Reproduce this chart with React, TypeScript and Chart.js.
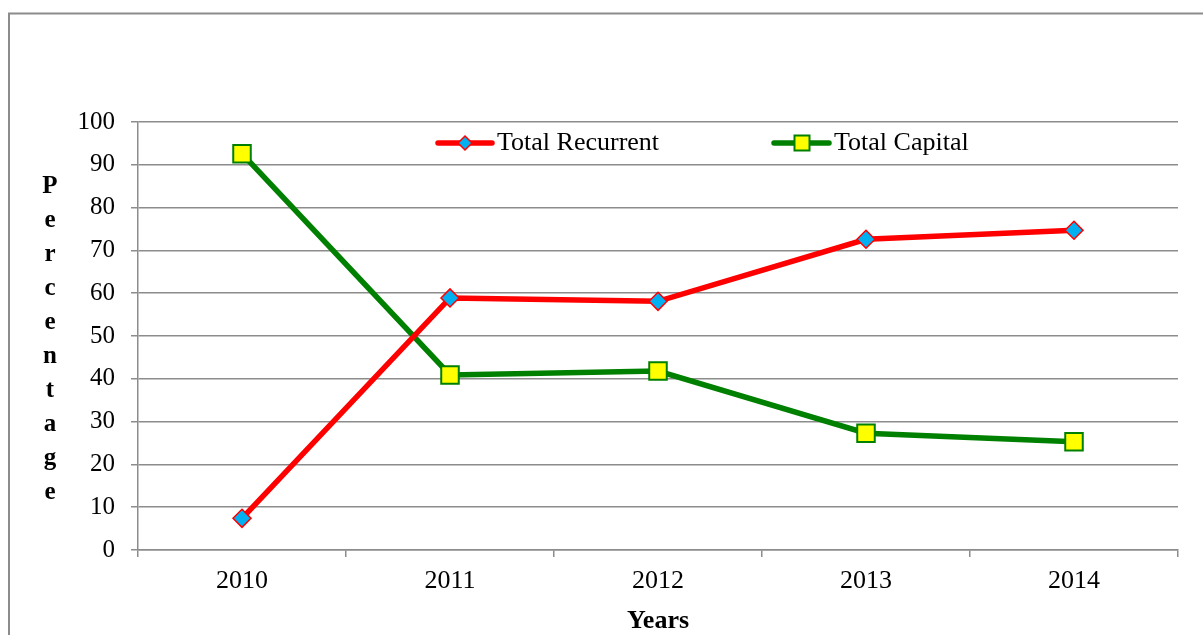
import React, { useEffect, useRef } from "react";
import { Chart, registerables } from "chart.js";

Chart.register(...registerables);

const years = ["2010", "2011", "2012", "2013", "2014"];
const totalRecurrent = [7.4, 58.9, 58.1, 72.6, 74.7];
const totalCapital = [92.6, 40.9, 41.8, 27.3, 25.3];
const yAxisLetters = ["P", "e", "r", "c", "e", "n", "t", "a", "g", "e"];
const xTitle = "Years";

const SERIF = "'Liberation Serif', 'Times New Roman', serif";
const GRID = "#8c8c8c";

const decorPlugin = {
  id: "decor",
  beforeDraw(chart: any) {
    const ctx = chart.ctx;
    ctx.save();
    ctx.fillStyle = "#ffffff";
    ctx.fillRect(0, 0, chart.width, chart.height);
    ctx.strokeStyle = GRID;
    ctx.lineWidth = 2;
    ctx.strokeRect(9, 13.5, chart.width + 20, chart.height + 20);
    ctx.restore();
  },
  afterDraw(chart: any) {
    const ctx = chart.ctx;
    const area = chart.chartArea;
    ctx.save();
    ctx.fillStyle = "#000";
    ctx.font = `bold 25px ${SERIF}`;
    ctx.textAlign = "center";
    ctx.textBaseline = "middle";
    yAxisLetters.forEach((l, i) => ctx.fillText(l, 50, 187 + 34 * i));
    ctx.font = `bold 26px ${SERIF}`;
    ctx.fillText(xTitle, (area.left + area.right) / 2, 621);

    const ly = 143;
    const items = [
      { label: "Total Recurrent", x0: 438, x1: 492, mx: 465, line: "#ff0000", fill: "#00b0f0", stroke: "#ff0000", shape: "diamond" },
      { label: "Total Capital", x0: 774, x1: 829, mx: 802, line: "#008000", fill: "#ffff00", stroke: "#008000", shape: "square" },
    ];
    items.forEach((it) => {
      ctx.strokeStyle = it.line;
      ctx.lineWidth = 5.5;
      ctx.lineCap = "round";
      ctx.beginPath();
      ctx.moveTo(it.x0, ly);
      ctx.lineTo(it.x1, ly);
      ctx.stroke();
      ctx.lineCap = "butt";
      ctx.fillStyle = it.fill;
      ctx.strokeStyle = it.stroke;
      ctx.beginPath();
      if (it.shape === "diamond") {
        const r = 7;
        ctx.moveTo(it.mx, ly - r);
        ctx.lineTo(it.mx + r, ly);
        ctx.lineTo(it.mx, ly + r);
        ctx.lineTo(it.mx - r, ly);
        ctx.closePath();
        ctx.lineWidth = 1.5;
      } else {
        const s = 7.5;
        ctx.rect(it.mx - s, ly - s, 2 * s, 2 * s);
        ctx.lineWidth = 2;
      }
      ctx.fill();
      ctx.stroke();
      ctx.fillStyle = "#000";
      ctx.font = `26px ${SERIF}`;
      ctx.textAlign = "left";
      ctx.textBaseline = "middle";
      ctx.fillText(it.label, it.x1 + 5, ly);
    });
    ctx.restore();
  },
};

export default function App() {
  const ref = useRef<HTMLCanvasElement>(null);
  useEffect(() => {
    if (!ref.current) return;
    const chart = new Chart(ref.current, {
      type: "line",
      data: {
        labels: years,
        datasets: [
          {
            label: "Total Recurrent",
            data: totalRecurrent,
            borderColor: "#ff0000",
            borderWidth: 5.5,
            backgroundColor: "#00b0f0",
            pointStyle: "rectRot",
            pointRadius: 9,
            pointBorderWidth: 1.5,
            pointBorderColor: "#ff0000",
            pointBackgroundColor: "#00b0f0",
            tension: 0,
          },
          {
            label: "Total Capital",
            data: totalCapital,
            borderColor: "#008000",
            borderWidth: 5.5,
            backgroundColor: "#ffff00",
            pointStyle: "rect",
            pointRadius: 12.4,
            pointBorderWidth: 2,
            pointBorderColor: "#008000",
            pointBackgroundColor: "#ffff00",
            tension: 0,
          },
        ],
      },
      options: {
        animation: false,
        responsive: false,
        maintainAspectRatio: false,
        devicePixelRatio: 1,
        layout: { autoPadding: false, padding: { left: 0, top: 122, right: 25, bottom: 0 } },
        plugins: { legend: { display: false }, tooltip: { enabled: false }, title: { display: false } },
        scales: {
          x: {
            type: "category",
            offset: true,
            afterFit(scale: any) {
              scale.height = 85;
            },
            grid: {
              offset: true,
              drawOnChartArea: false,
              drawTicks: true,
              tickLength: 7,
              color: GRID,
              lineWidth: 1.5,
            },
            border: { color: GRID, width: 1.5 },
            ticks: {
              color: "#000",
              font: { family: SERIF, size: 26 },
              padding: 9,
              maxRotation: 0,
            },
          },
          y: {
            min: 0,
            max: 100,
            afterFit(scale: any) {
              scale.width = 138;
            },
            grid: {
              color: GRID,
              lineWidth: 1.5,
              drawTicks: true,
              tickLength: 7,
            },
            border: { color: GRID, width: 1.5 },
            ticks: {
              stepSize: 10,
              color: "#000",
              font: { family: SERIF, size: 25 },
              padding: 16,
            },
          },
        },
      },
      plugins: [decorPlugin],
    });
    return () => chart.destroy();
  }, []);
  return (
    <div style={{ position: "absolute", left: 0, top: 0, width: 1203, height: 635 }}>
      <canvas ref={ref} width={1203} height={635} style={{ width: 1203, height: 635, display: "block" }} />
    </div>
  );
}
